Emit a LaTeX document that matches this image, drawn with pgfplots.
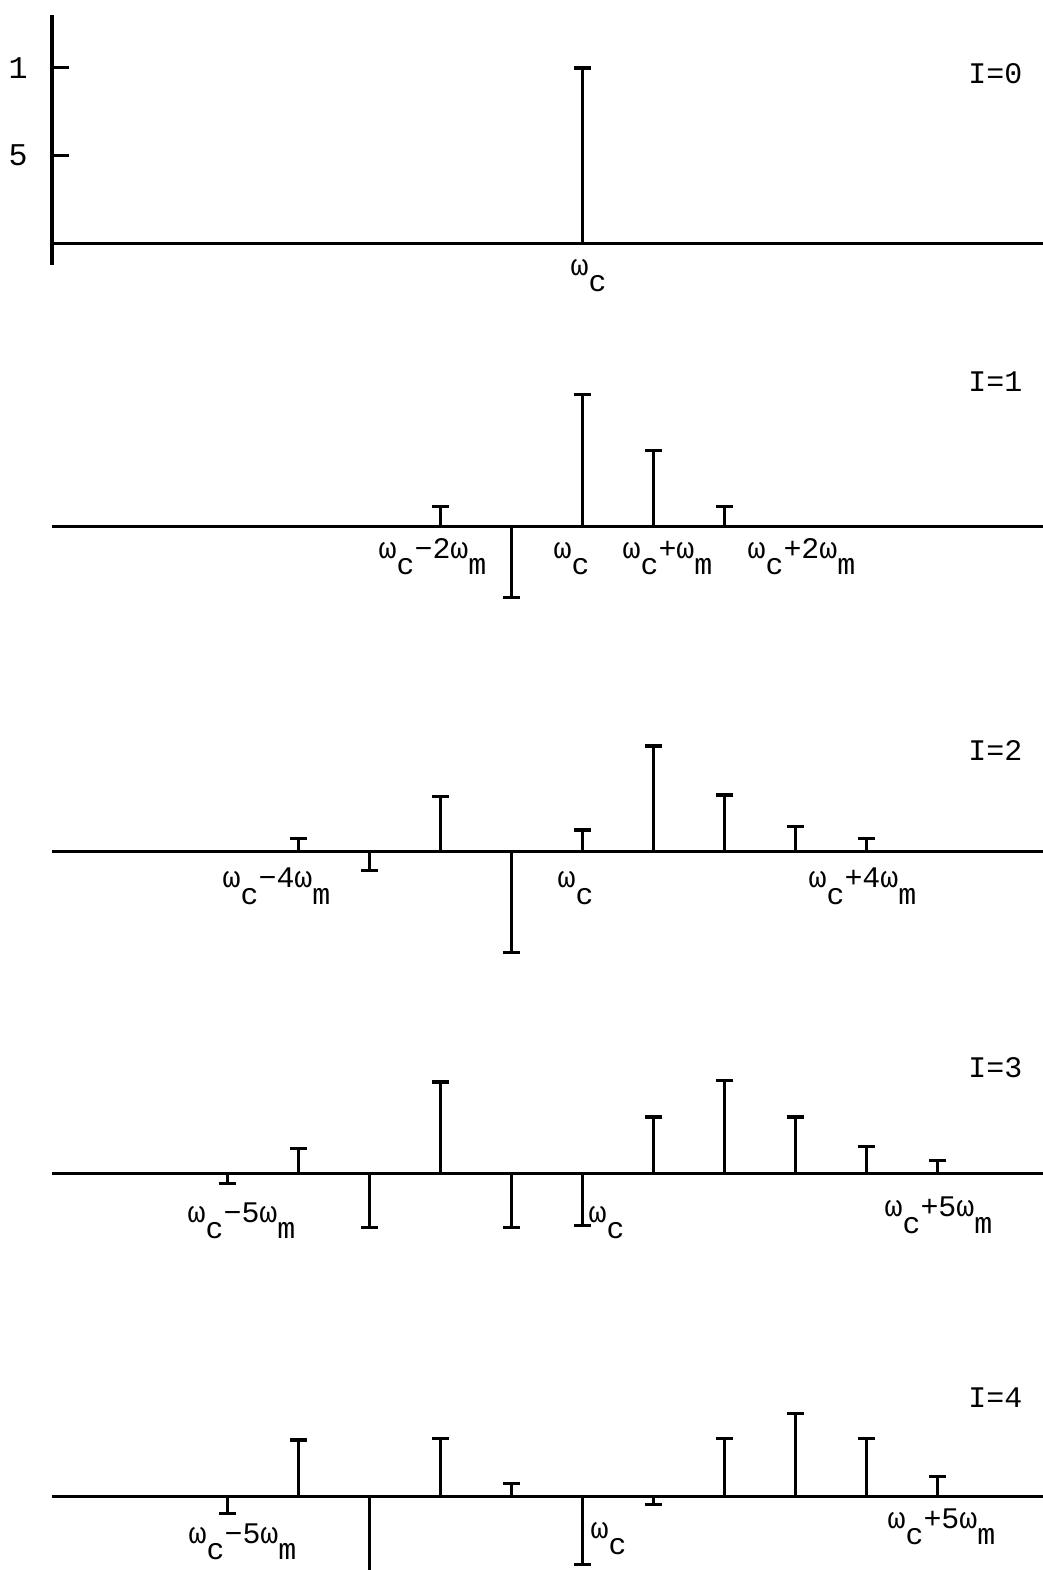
\documentclass[border=0pt]{standalone}
\usepackage{fontspec}
\setmainfont{Liberation Mono}
\usepackage{pgfplots}
\pgfplotsset{compat=1.18}

% typewriter style: subscript letter set lower, same size
\newcommand{\lo}[1]{\raisebox{-1.65mm}{#1}}

\pgfplotsset{
  panel/.style={
    x=0.71cm, y=1.75cm,
    xmin=-7.47, xmax=6.49,
    ymin=-0.7, ymax=0.9,
    axis x line=middle,
    axis line style={-, line width=0.3mm, black},
    every inner x axis line/.append style={-},
    xtick=\empty,
    clip=false,
    anchor=origin,
  },
  flat/.style={panel, axis y line=none, ytick=\empty},
  stem/.style={ycomb, black, line width=0.38mm,
    mark=-, mark size=0.85mm, mark options={line width=0.34mm}},
}
\tikzset{
  lbl/.style={anchor=base west, inner sep=0pt, font=\fontsize{8.5}{10}\selectfont},
  ilbl/.style={anchor=base east, inner sep=0pt, font=\fontsize{8.5}{10}\selectfont},
}

\begin{document}
\begin{tikzpicture}
\useasboundingbox (-5.825,-13.27) rectangle (4.605,2.43);

% I = 0
\begin{axis}[panel, at={(0,0)},
  ymin=-0.126, ymax=1.30,
  axis y line=left,
  every outer y axis line/.append style={-, line width=0.36mm},
  ytick={0.5,1}, yticklabels={5,1},
  tick align=inside, major tick length=1.7mm,
  tick style={line width=0.3mm, black},
  /pgf/number format/assume math mode=true,
  yticklabel style={font=\fontsize{9}{10}\selectfont, xshift=-1.2mm}]
\addplot[stem] coordinates {(0,1.0)};
\node[lbl] at (axis cs:-0.176,-0.183) {ω\lo{c}};
\node[ilbl] at (axis cs:6.204,0.914) {I=0};
\end{axis}

% I = 1
\begin{axis}[flat, at={(0,-2.83cm)}]
\addplot[stem] coordinates {(-2,0.11) (-1,-0.41) (0,0.75) (1,0.43) (2,0.11)};
\node[lbl] at (axis cs:-2.880,-0.183) {ω\lo{c}−2ω\lo{m}};
\node[lbl] at (axis cs:-0.415,-0.183) {ω\lo{c}};
\node[lbl] at (axis cs:0.556,-0.183) {ω\lo{c}+ω\lo{m}};
\node[lbl] at (axis cs:2.317,-0.183) {ω\lo{c}+2ω\lo{m}};
\node[ilbl] at (axis cs:6.204,0.766) {I=1};
\end{axis}

% I = 2
\begin{axis}[flat, at={(0,-6.08cm)}]
\addplot[stem] coordinates {(-4,0.07) (-3,-0.11) (-2,0.31) (-1,-0.58) (0,0.12)
  (1,0.60) (2,0.32) (3,0.14) (4,0.07)};
\node[lbl] at (axis cs:-5.077,-0.211) {ω\lo{c}−4ω\lo{m}};
\node[lbl] at (axis cs:-0.359,-0.211) {ω\lo{c}};
\node[lbl] at (axis cs:3.176,-0.211) {ω\lo{c}+4ω\lo{m}};
\node[ilbl] at (axis cs:6.204,0.52) {I=2};
\end{axis}

% I = 3
\begin{axis}[flat, at={(0,-9.30cm)}]
\addplot[stem] coordinates {(-5,-0.06) (-4,0.14) (-3,-0.31) (-2,0.52) (-1,-0.31)
  (0,-0.30) (1,0.32) (2,0.53) (3,0.32) (4,0.15) (5,0.07)};
\node[lbl] at (axis cs:-5.570,-0.28) {ω\lo{c}−5ω\lo{m}};
\node[lbl] at (axis cs:0.077,-0.28) {ω\lo{c}};
\node[lbl] at (axis cs:4.246,-0.251) {ω\lo{c}+5ω\lo{m}};
\node[ilbl] at (axis cs:6.204,0.543) {I=3};
\end{axis}

% I = 4
\begin{axis}[flat, at={(0,-12.53cm)}]
\addplot[stem] coordinates {(-5,-0.10) (-4,0.32) (-3,-0.44) (-2,0.33) (-1,0.07)
  (0,-0.39) (1,-0.05) (2,0.33) (3,0.47) (4,0.33) (5,0.11)};
\node[lbl] at (axis cs:-5.556,-0.269) {ω\lo{c}−5ω\lo{m}};
\node[lbl] at (axis cs:0.106,-0.24) {ω\lo{c}};
\node[lbl] at (axis cs:4.289,-0.183) {ω\lo{c}+5ω\lo{m}};
\node[ilbl] at (axis cs:6.204,0.503) {I=4};
\end{axis}
\end{tikzpicture}
\end{document}
